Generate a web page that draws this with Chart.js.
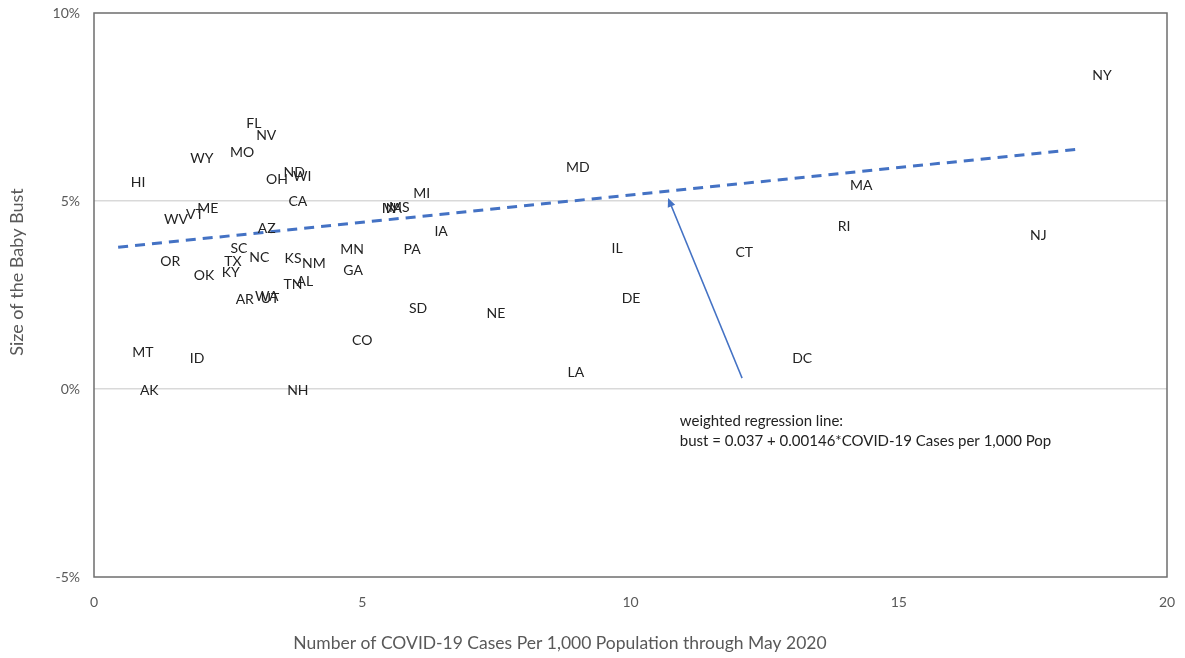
<!DOCTYPE html>
<html><head><meta charset="utf-8">
<script src="https://cdn.jsdelivr.net/npm/chart.js@4/dist/chart.umd.min.js"></script>
<style>html,body{margin:0;padding:0;background:#fff;}</style>
</head><body>
<canvas id="c" width="1185" height="658"></canvas>
<script>
// ---- data ----
const states = ["NY","FL","NV","MO","WY","HI","ND","WI","OH","CA","MD","MI","IN","VA","MS","MA","WV","VT","ME","AZ","IA","SC","TX","KY","NC","KS","NM","TN","AL","AR","WA","UT","OK","OR","MN","GA","PA","SD","NE","CO","MT","ID","AK","NH","LA","IL","DE","CT","RI","NJ","DC"];
const casesPer1000 = [18.79,2.98,3.21,2.76,2.01,0.82,3.73,3.88,3.41,3.80,9.02,6.11,5.50,5.57,5.69,14.30,1.53,1.88,2.12,3.22,6.47,2.70,2.59,2.55,3.08,3.71,4.10,3.71,3.93,2.81,3.22,3.28,2.05,1.42,4.81,4.83,5.93,6.04,7.49,5.00,0.91,1.92,1.03,3.80,8.98,9.75,10.01,12.12,13.98,17.60,13.20];
const bustPct = [8.35,7.07,6.73,6.30,6.12,5.48,5.77,5.66,5.56,5.00,5.88,5.21,4.79,4.81,4.84,5.40,4.52,4.63,4.79,4.26,4.20,3.75,3.38,3.11,3.51,3.48,3.35,2.79,2.85,2.37,2.45,2.42,3.01,3.40,3.70,3.16,3.72,2.13,2.02,1.28,0.98,0.82,-0.05,-0.05,0.43,3.75,2.42,3.64,4.31,4.07,0.82];
const regX = [0.45, 18.3];
const regY = [3.77, 6.37];
const xTicks = [0, 5, 10, 15, 20];
const yTicks = [-5, 0, 5, 10];
const arrowTail = [12.08, 0.29];
const arrowHead = [10.70, 5.08];
const noteAnchor = [10.92, -0.85];
const noteLines = ["weighted regression line:", "bust = 0.037 + 0.00146*COVID-19 Cases per 1,000 Pop"];
const xTitle = "Number of COVID-19 Cases Per 1,000 Population through May 2020";
const yTitle = "Size of the Baby Bust";

const FONT = "Lato, 'Open Sans', sans-serif";

const decor = {
  id: 'decor',
  beforeDatasetsDraw(chart) {
    const {ctx, chartArea: a} = chart;
    ctx.save();
    ctx.strokeStyle = '#6e6e6e';
    ctx.lineWidth = 1.5;
    ctx.strokeRect(a.left, a.top, a.right - a.left, a.bottom - a.top);
    ctx.restore();
  },
  afterDatasetsDraw(chart) {
    const {ctx, scales: {x, y}} = chart;
    ctx.save();
    ctx.font = "14px " + FONT;
    ctx.fillStyle = '#222';
    ctx.textAlign = 'center';
    ctx.textBaseline = 'middle';
    states.forEach((s, i) => {
      ctx.fillText(s, x.getPixelForValue(casesPer1000[i]), y.getPixelForValue(bustPct[i]));
    });
    const tx = x.getPixelForValue(arrowTail[0]), ty = y.getPixelForValue(arrowTail[1]);
    const hx = x.getPixelForValue(arrowHead[0]), hy = y.getPixelForValue(arrowHead[1]);
    ctx.strokeStyle = '#4472C4';
    ctx.fillStyle = '#4472C4';
    ctx.lineWidth = 1.5;
    const ang = Math.atan2(hy - ty, hx - tx);
    const L = 9, W = 4;
    ctx.beginPath();
    ctx.moveTo(tx, ty);
    ctx.lineTo(hx - Math.cos(ang) * L * 0.8, hy - Math.sin(ang) * L * 0.8);
    ctx.stroke();
    ctx.beginPath();
    ctx.moveTo(hx, hy);
    ctx.lineTo(hx - Math.cos(ang) * L - Math.sin(ang) * W, hy - Math.sin(ang) * L + Math.cos(ang) * W);
    ctx.lineTo(hx - Math.cos(ang) * L + Math.sin(ang) * W, hy - Math.sin(ang) * L - Math.cos(ang) * W);
    ctx.closePath();
    ctx.fill();
    ctx.font = "15px " + FONT;
    ctx.fillStyle = '#222';
    ctx.textAlign = 'left';
    const nx = x.getPixelForValue(noteAnchor[0]), ny = y.getPixelForValue(noteAnchor[1]);
    noteLines.forEach((t, i) => ctx.fillText(t, nx, ny + i * 20));
    ctx.restore();
  },
  afterDraw(chart) {
    const {ctx} = chart;
    ctx.save();
    ctx.fillStyle = '#595959';
    ctx.textAlign = 'center';
    ctx.textBaseline = 'middle';
    ctx.font = "17.5px " + FONT;
    ctx.fillText(xTitle, 560, 643);
    ctx.font = "18px " + FONT;
    ctx.translate(17, 272);
    ctx.rotate(-Math.PI / 2);
    ctx.fillText(yTitle, 0, 0);
    ctx.restore();
  }
};

new Chart(document.getElementById('c'), {
  type: 'scatter',
  data: {
    datasets: [
      {
        label: 'States',
        data: states.map((s, i) => ({x: casesPer1000[i], y: bustPct[i]})),
        pointRadius: 0,
        pointHoverRadius: 0,
        showLine: false
      },
      {
        label: 'Regression',
        type: 'line',
        data: regX.map((v, i) => ({x: v, y: regY[i]})),
        borderColor: '#4472C4',
        borderWidth: 3,
        borderDash: [10, 7],
        pointRadius: 0,
        fill: false
      }
    ]
  },
  options: {
    responsive: false,
    devicePixelRatio: 1,
    animation: false,
    layout: {padding: {top: 13, right: 18, left: 0, bottom: 0}},
    plugins: {legend: {display: false}, tooltip: {enabled: false}},
    scales: {
      x: {
        type: 'linear', min: 0, max: 20,
        afterBuildTicks: s => { s.ticks = xTicks.map(v => ({value: v})); },
        afterFit: s => { s.height = 81; s.paddingLeft = 0; s.paddingRight = 0; },
        ticks: {color: '#595959', font: {family: FONT, size: 14}, padding: 17},
        grid: {display: false, drawTicks: false},
        border: {display: false}
      },
      y: {
        type: 'linear', min: -5, max: 10,
        afterBuildTicks: s => { s.ticks = yTicks.map(v => ({value: v})); },
        afterFit: s => { s.width = 94; s.paddingTop = 0; s.paddingBottom = 0; },
        ticks: {color: '#595959', font: {family: FONT, size: 14}, padding: 14, callback: v => v + '%'},
        grid: {
          drawTicks: false,
          color: c => (c.tick && (c.tick.value === 0 || c.tick.value === 5)) ? '#d9d9d9' : 'rgba(0,0,0,0)',
          lineWidth: 1.5
        },
        border: {display: false}
      }
    }
  },
  plugins: [decor]
});
</script>
</body></html>
